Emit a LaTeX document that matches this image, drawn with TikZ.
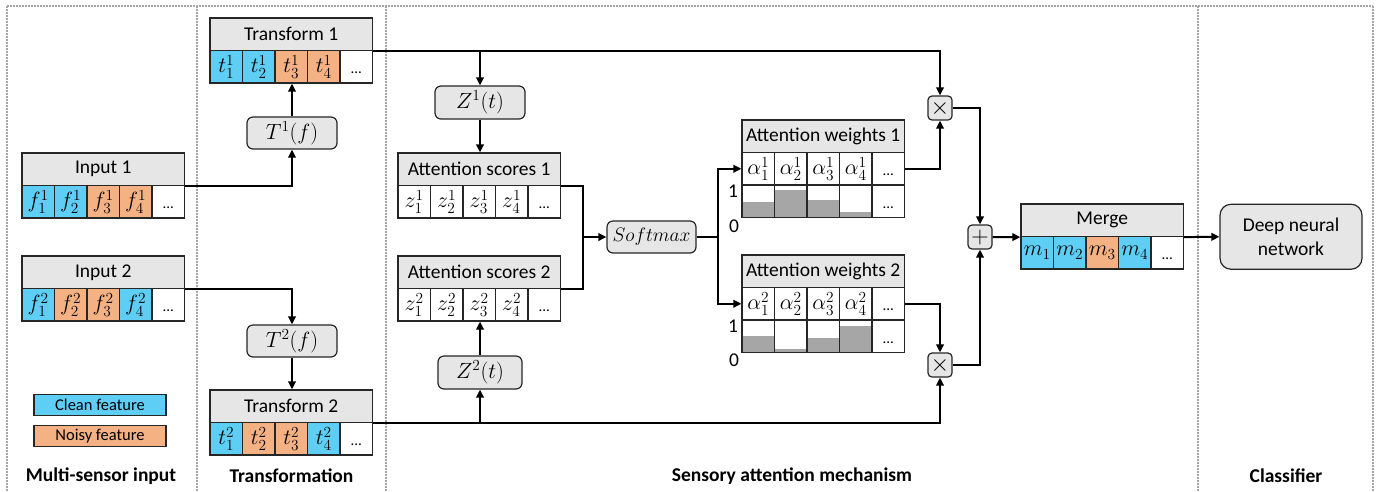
\RequirePackage{fix-cm}
\documentclass[tikz,border=0pt]{standalone}
\usepackage{fontspec}
\setmainfont{Carlito}
\usetikzlibrary{arrows.meta,backgrounds,calc}

\definecolor{clean}{RGB}{95,206,245}
\definecolor{noisy}{RGB}{244,177,131}
\definecolor{hdrgray}{RGB}{231,230,230}
\definecolor{bargray}{RGB}{166,166,166}
\definecolor{sepgray}{RGB}{165,165,165}
\definecolor{edge}{RGB}{38,38,38}

\tikzset{
  hdr/.style={draw=edge, line width=1.2pt, fill=hdrgray, minimum width=162.5pt,
              minimum height=32.5pt, inner sep=0pt},
  cell/.style={draw=edge, line width=1.2pt, minimum width=32.5pt,
               minimum height=32.5pt, inner sep=0pt, font=\fontsize{22}{26}\selectfont},
  op/.style={draw=edge, line width=1.2pt, fill=hdrgray, rounded corners=6pt, inner sep=0pt},
  mathop/.style={op, font=\fontsize{22}{26}\selectfont},
  sign/.style={op, minimum size=24pt, rounded corners=4pt, font=\fontsize{24}{28}\selectfont},
  conn/.style={line width=2pt, black},
  arr/.style={conn, -{Triangle[length=8pt,width=7.5pt]}},
  sep/.style={sepgray, line width=1.5pt, dash pattern=on 1.5pt off 1.5pt},
  secl/.style={font=\fontsize{19.5}{23.4}\selectfont\bfseries},
  legendbox/.style={draw=edge, line width=1.2pt, minimum width=132pt, minimum height=21.5pt,
                    inner sep=0pt, font=\fontsize{16.5}{20}\selectfont},
}

% small ellipsis sitting on the baseline of a cell
\newcommand\celldots{\smash{\raisebox{-7pt}{\fontsize{15}{18}\selectfont...}}}

% header with a row of five cells: name, left x, top y, title, fill/content list
\newcommand\featblock[5]{%
  \node[hdr] (#1) at ({#2+81.25},{#3+16.25}) {#4};
  \foreach \c/\t [count=\i] in {#5} {
    \node[cell, fill=\c] (#1-\i) at ({#2+32.5*\i-16.25},{#3+48.75}) {\t};
  }
}

% attention weight block: name, left x, top y, title, superscript, bar heights
\newcommand\weightblock[6]{%
  \node[hdr] (#1) at ({#2+81.25},{#3+16.25}) {#4};
  \foreach \i in {1,...,4} {
    \node[cell, fill=white] (#1-\i) at ({#2+32.5*\i-16.25},{#3+48.75}) {$\alpha_{\i}^{#5}$};
  }
  \node[cell, fill=white] (#1-5) at ({#2+32.5*5-16.25},{#3+48.75}) {\celldots};
  \foreach \h [count=\i] in {#6} {
    \node[cell] (#1-b\i) at ({#2+32.5*\i-16.25},{#3+81.25}) {};
    \begin{scope}[on background layer]
      \fill[bargray] (#1-b\i.south west) rectangle ++(32.5,-\h);
    \end{scope}
  }
  \node[cell] (#1-b5) at ({#2+32.5*5-16.25},{#3+81.25}) {\celldots};
}

\begin{document}
\begin{tikzpicture}[x=1pt, y=-1pt, font=\fontsize{19.5}{23.4}\selectfont]
\useasboundingbox (0,0) rectangle (1380,491);
\begin{scope}[on background layer]
  \fill[white] (0,0) rectangle (1380,491);
\end{scope}

% section frame
\draw[sep] (7,6) -- (1373,6);
\foreach \x in {7,197,386,1198,1373} \draw[sep] (\x,6) -- (\x,491);

% inputs
\featblock{in1}{22}{153}{Input 1}{clean/$f_1^1$, clean/$f_2^1$, noisy/$f_3^1$, noisy/$f_4^1$, white/\celldots}
\featblock{in2}{22}{256}{Input 2}{clean/$f_1^2$, noisy/$f_2^2$, noisy/$f_3^2$, clean/$f_4^2$, white/\celldots}

% legend
\node[legendbox, fill=clean] (lclean) at (100,405) {Clean feature};
\node[legendbox, fill=noisy] (lnoisy) at (100,436) {Noisy feature};

% transformations
\featblock{tr1}{210}{18}{Transform 1}{clean/$t_1^1$, clean/$t_2^1$, noisy/$t_3^1$, noisy/$t_4^1$, white/\celldots}
\featblock{tr2}{210}{390}{Transform 2}{clean/$t_1^2$, noisy/$t_2^2$, noisy/$t_3^2$, clean/$t_4^2$, white/\celldots}
\node[mathop, minimum width=90pt, minimum height=32pt] (T1) at (292,133) {$T^1(f)$};
\node[mathop, minimum width=90pt, minimum height=32pt] (T2) at (292,341) {$T^2(f)$};

% attention scores
\node[mathop, minimum width=90pt, minimum height=33pt] (Z1) at (480,102.5) {$Z^1(t)$};
\node[mathop, minimum width=84pt, minimum height=33pt] (Z2) at (480,372.5) {$Z^2(t)$};
\featblock{as1}{398}{153}{Attention scores 1}{white/$z_1^1$, white/$z_2^1$, white/$z_3^1$, white/$z_4^1$, white/\celldots}
\featblock{as2}{398}{256}{Attention scores 2}{white/$z_1^2$, white/$z_2^2$, white/$z_3^2$, white/$z_4^2$, white/\celldots}
\node[op, minimum width=89pt, minimum height=32pt] (sm) at (651.5,237) {$Softmax$};

% attention weights
\weightblock{aw1}{742}{120}{Attention weights 1}{1}{16.6,28,18,6.6}
\weightblock{aw2}{742}{255}{Attention weights 2}{2}{17.6,4,15,27.6}
\node (aw1-one) at (733,191) {1};
\node (aw1-zero) at (734,226) {0};
\node (aw2-one) at (733,326) {1};
\node (aw2-zero) at (734,360) {0};

% weighting and merging
\node[sign] (mul1) at (940,108) {$\times$};
\node[sign] (mul2) at (940,365) {$\times$};
\node[sign] (plus) at (980,237) {$+$};
\featblock{mg}{1021}{204}{Merge}{clean/$m_1$, clean/$m_2$, noisy/$m_3$, clean/$m_4$, white/\celldots}

% classifier
\node[op, minimum width=142pt, minimum height=65pt, rounded corners=11pt, align=center]
  (dnn) at (1291,236.75) {Deep neural\\network};

% section titles
\node[secl] (s1) at (101,476) {Multi-sensor input};
\node[secl] (s2) at (291.5,476) {Transformation};
\node[secl] (s3) at (792,476) {Sensory attention mechanism};
\node[secl] (s4) at (1286,476) {Classifier};

% connectors: transformation
\draw[arr] (in1.south east) -| (T1.south);
\draw[arr] (T1.north) -- (T1.north |- tr1-3.south);
\draw[arr] (in2.south east) -| (T2.north);
\draw[arr] (T2.south) -- (T2.south |- tr2.north);

% connectors: scores
\draw[arr] (tr1.south east) -| (mul1.north);
\draw[arr] (Z1.north |- tr1.south east) -- (Z1.north);
\draw[arr] (Z1.south) -- (Z1.south |- as1.north);
\draw[arr] (tr2.south east) -| (mul2.south);
\draw[arr] (Z2.south |- tr2.south east) -- (Z2.south);
\draw[arr] (Z2.north) -- (Z2.north |- as2-3.south);

% connectors: softmax
\coordinate (sj) at (583,237);
\draw[conn] (as1.south east) -| (sj);
\draw[conn] (as2.south east) -| (sj);
\draw[arr] (sj) -- (sm.west);
\coordinate (sk) at (718,237);
\draw[conn] (sm.east) -- (sk);
\draw[arr] (sk) |- (aw1-1.west);
\draw[arr] (sk) |- (aw2-1.west);

% connectors: weighting, merging, classifier
\draw[arr] (aw1-5.east) -| (mul1.south);
\draw[arr] (aw2-5.east) -| (mul2.north);
\draw[arr] (mul1.east) -| (plus.north);
\draw[arr] (mul2.east) -| (plus.south);
\draw[arr] (plus.east) -- (mg.south west);
\draw[arr] (mg.south east) -- (dnn.west);
\end{tikzpicture}
\end{document}
